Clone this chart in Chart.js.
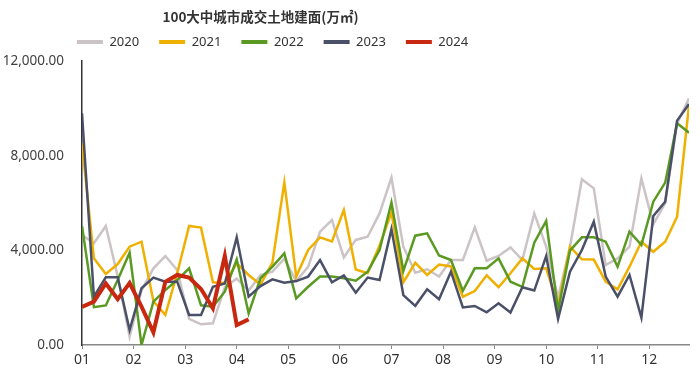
<!DOCTYPE html>
<html><head><meta charset="utf-8">
<script src="https://cdn.jsdelivr.net/npm/chart.js@4.4.1/dist/chart.umd.min.js"></script>
<style>html,body{margin:0;padding:0;background:#fff}#wrap{width:700px;height:378px}</style>
</head><body><div id="wrap"><canvas id="c" width="700" height="378"></canvas></div>
<script>
const chartTitle = '100大中城市成交土地建面(万㎡)';
const monthLabels = ['01','02','03','04','05','06','07','08','09','10','11','12'];
const weeksPerYear = 52;
const yMin = 0, yMax = 12000, yStep = 4000;
const seriesNames = ['2020','2021','2022','2023','2024'];

const s2020 = [4650,4300,5030,2900,350,2300,3240,3760,3170,1100,875,915,2450,2800,2300,2950,3100,3650,2700,3300,4790,5280,3700,4440,4575,5560,7070,4155,3055,3200,2890,3590,3590,4970,3560,3760,4125,3590,5560,4155,2000,4155,7000,6620,3380,3660,4155,7040,5100,6000,9365,10420];
const s2021 = [8520,3660,3000,3420,4155,4365,1850,1270,3030,5030,4960,2650,2620,3450,2960,2550,3480,6870,2890,4015,4550,4380,5700,3190,3030,4200,5600,2650,3470,2960,3400,3320,2040,2280,2945,2440,3030,3660,3210,3240,1650,4155,3620,3610,2675,2350,3310,4365,3940,4365,5420,10140];
const s2022 = [5030,1600,1670,2745,3900,0,1830,2320,2745,3240,1680,1620,2250,3620,1340,2820,3310,3870,1970,2460,2890,2890,2820,2720,3100,4015,6020,3130,4620,4720,3780,3590,2290,3240,3240,3660,2675,2460,4320,5240,1450,3985,4550,4550,4365,3310,4790,4225,6055,6860,9365,8970];
const s2023 = [9790,2040,2860,2860,635,2400,2845,2675,2675,1270,1270,2460,2600,4550,2040,2490,2775,2630,2700,2890,3590,2650,2940,2210,2850,2745,4895,2110,1655,2350,1935,3100,1585,1650,1380,1760,1370,2440,2300,3760,1100,3100,4015,5210,2890,2040,2960,1155,5450,6055,9480,10180];
const s2024 = [1605,1830,2600,1940,2620,1620,536,2675,2960,2845,2365,1550,3760,845,1085];

const seriesValues = [s2020, s2021, s2022, s2023, s2024];
const seriesColors = ['#CCC3C7', '#F0B000', '#5B9A22', '#4A5068', '#C8280F'];
const seriesWidths = [2.5, 2.5, 2.5, 2.5, 4];

const datasets = seriesNames.map((name, k) => ({
  label: name,
  data: seriesValues[k].map((v, i) => ({x: i, y: v})),
  borderColor: seriesColors[k],
  backgroundColor: seriesColors[k],
  borderWidth: seriesWidths[k],
  pointRadius: 0,
  pointHoverRadius: 0,
  tension: 0,
  fill: false,
  order: seriesNames.length - 1 - k
}));

const fmt = v => Number(v).toLocaleString('en-US', {minimumFractionDigits: 2, maximumFractionDigits: 2});

const shiftHeader = {
  id: 'shiftHeader',
  afterLayout(chart) {
    const t = chart.titleBlock;
    if (t) { t.left -= 84; t.right -= 84; }
    const l = chart.legend;
    if (l) { l.left -= 72; l.right -= 72; l.top -= 10.3; l.bottom -= 10.3; }
  }
};

new Chart(document.getElementById('c'), {
  type: 'line',
  data: { datasets },
  plugins: [shiftHeader],
  options: {
    responsive: false,
    devicePixelRatio: 1,
    animation: false,
    layout: { padding: { left: 0, right: 11, top: 0, bottom: 0 } },
    plugins: {
      tooltip: { enabled: false },
      title: {
        display: true, text: chartTitle, color: '#333',
        font: { family: '"Noto Sans CJK SC", "Noto Sans", sans-serif', size: 13.5, weight: 'bold' },
        padding: { top: 9, bottom: 0.6 }
      },
      legend: {
        display: true, position: 'top', maxHeight: 35.2,
        labels: {
          boxWidth: 26, boxHeight: 4, padding: 20, color: '#333',
          font: { family: '"Noto Sans", sans-serif', size: 13 },
          generateLabels(chart) {
            const items = Chart.defaults.plugins.legend.labels.generateLabels(chart);
            items.forEach(it => { it.lineWidth = 0; it.fillStyle = it.strokeStyle; });
            return items.sort((a, b) => a.datasetIndex - b.datasetIndex);
          }
        }
      }
    },
    scales: {
      x: {
        type: 'linear', min: 0, max: weeksPerYear - 1,
        afterBuildTicks(scale) { scale.ticks = monthLabels.map((m, i) => ({ value: i * weeksPerYear / 12 })); },
        afterFit(scale) { scale.height = 33; },
        ticks: {
          autoSkip: false, maxRotation: 0, padding: 3, color: '#333',
          font: { family: '"Noto Sans", sans-serif', size: 14 },
          callback: (v, i) => monthLabels[i]
        },
        grid: { drawOnChartArea: false, drawTicks: true, tickLength: 4, color: '#888' },
        border: { color: '#888', width: 1.5 }
      },
      y: {
        min: yMin, max: yMax,
        afterFit(scale) { scale.width = 82; },
        ticks: {
          stepSize: yStep, padding: 18, color: '#404040',
          font: { family: '"Noto Sans", sans-serif', size: 13.5 },
          callback: v => fmt(v)
        },
        grid: { drawOnChartArea: false, drawTicks: false },
        border: { color: '#333', width: 1.5 }
      }
    }
  }
});
</script>
</body></html>
